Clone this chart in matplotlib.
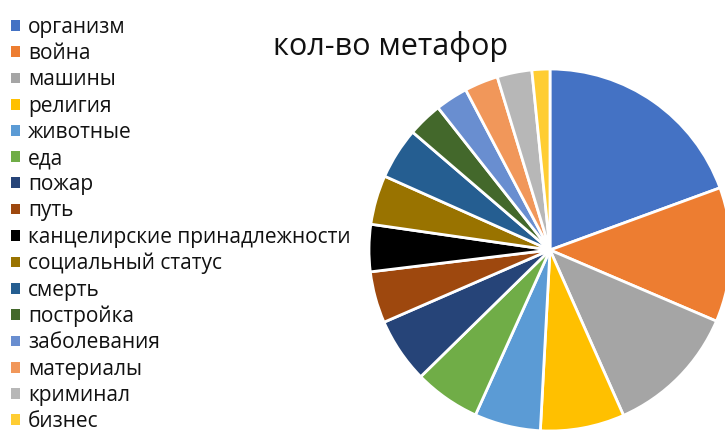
import matplotlib.pyplot as plt
from matplotlib.patches import Patch

plt.rcParams['font.family'] = ['Open Sans', 'DejaVu Sans']

# доля метафор по сферам-источникам
categories = [
    "организм", "война", "машины", "религия", "животные", "еда", "пожар",
    "путь", "канцелирские принадлежности", "социальный статус", "смерть",
    "постройка", "заболевания", "материалы", "криминал", "бизнес",
]
counts = [19.4, 12.0, 11.9, 7.5, 5.9, 5.9, 5.8, 4.6, 4.2, 4.4, 4.6,
          3.1, 2.9, 3.0, 3.1, 1.6]
colors = [
    "#4472C4", "#ED7D31", "#A5A5A5", "#FFC000", "#5B9BD5", "#70AD47",
    "#264478", "#9E480E", "#000000", "#997300", "#255E91", "#43682B",
    "#698ED0", "#F1975A", "#B7B7B7", "#FFCD33",
]

W, H = 725, 432
fig = plt.figure(figsize=(W / 100, H / 100), dpi=100)

# круг: центр (550, 250), радиус ~181 px
cx, cy, r = 550, 250, 181
ax = fig.add_axes([(cx - r) / W, 1 - (cy + r) / H, 2 * r / W, 2 * r / H])
ax.pie(counts, colors=colors, startangle=90, counterclock=False,
       wedgeprops={"edgecolor": "white", "linewidth": 2.0})
ax.set_aspect("equal")
ax.set_xlim(-1, 1)
ax.set_ylim(-1, 1)

fig.text(391 / W, 1 - 46 / H, "кол-во метафор", ha="center", va="center",
         fontsize=22, color="#111111")

handles = [Patch(facecolor=c, edgecolor="none") for c in colors]
fig.legend(handles, categories, loc="upper left",
           bbox_to_anchor=(11 / W, 1 - 17 / H), frameon=False,
           fontsize=15, handlelength=0.42, handleheight=0.42,
           handletextpad=0.4, labelspacing=0.25, borderaxespad=0.0,
           borderpad=0.0, labelcolor="#111111")

fig.savefig("out.png", dpi=100)
